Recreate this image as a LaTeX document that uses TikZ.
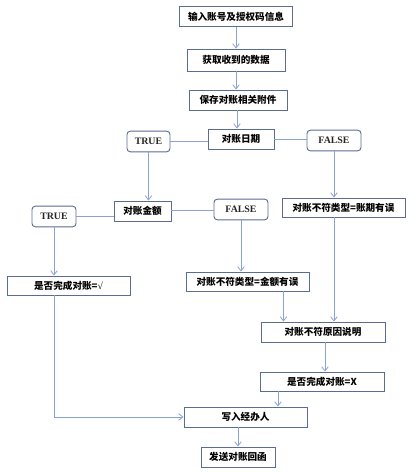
\documentclass[tikz,border=0pt]{standalone}
\usepackage{fontspec}
\setmainfont{Liberation Serif}
\newfontfamily\cjk{Noto Sans CJK SC}
\usetikzlibrary{arrows.meta,positioning,calc}
\definecolor{boxline}{HTML}{5A6C92}
\definecolor{flowline}{HTML}{8AA2D4}
\tikzset{
  step box/.style   = {draw=boxline, line width=0.7pt, fill=white, inner sep=0pt,
                       minimum height=15pt, font=\cjk\bfseries\fontsize{7.2}{8}\selectfont},
  answer/.style     = {draw=boxline, line width=0.7pt, rounded corners=2.5pt, fill=white,
                       inner sep=0pt, minimum height=15.5pt,
                       font=\bfseries\fontsize{7.4}{8}\selectfont, text=black!85},
  flow/.style       = {-{Straight Barb[length=3.2pt,width=5pt]}, draw=flowline, line width=0.6pt},
  link/.style       = {draw=flowline, line width=0.6pt},
}
\begin{document}
\begin{tikzpicture}[x=0.75pt,y=-0.75pt]
  \useasboundingbox (0,0) rectangle (411,472);
  % main column
  \node[step box, minimum width=84.75pt] (input)  at (236,16.5)  {输入账号及授权码信息};
  \node[step box, minimum width=73.5pt, minimum height=16.5pt] (fetch) at (236,60) {获取收到的数据};
  \node[step box, minimum width=73.5pt]  (save)   at (238,100)   {保存对账相关附件};
  \node[step box, minimum width=49.5pt]  (date)   at (241,139)   {对账日期};
  % date check
  \node[answer, minimum width=32.25pt]   (true1)  at (148.5,141.5) {TRUE};
  \node[answer, minimum width=40.5pt]    (false1) at (334,140.5)   {FALSE};
  \node[step box, minimum width=42.75pt] (amount) at (142.5,211)   {对账金额};
  \node[step box, minimum width=92.25pt, minimum height=14.25pt] (dateerr) at (343.5,207.5) {对账不符类型=账期有误};
  % amount check
  \node[answer, minimum width=33pt]      (true2)  at (54,216.5)    {TRUE};
  \node[answer, minimum width=40.5pt]    (false2) at (241,209.5)   {FALSE};
  \node[step box, minimum width=92.25pt, minimum height=14.25pt] (done)   at (68.5,285.5) {是否完成对账={\rmfamily\mdseries √}};
  \node[step box, minimum width=92.25pt, minimum height=14.25pt] (amterr) at (247.5,281.5) {对账不符类型=金额有误};
  % mismatch branch
  \node[step box, minimum width=93pt]    (reason) at (323,332)     {对账不符原因说明};
  \node[step box, minimum width=93pt, minimum height=14.25pt] (notdone) at (322,381.5) {是否完成对账=X};
  \node[step box, minimum width=92.25pt] (writer) at (245.5,417)   {写入经办人};
  \node[step box, minimum width=55.5pt]  (reply)  at (238,457)     {发送对账回函};

  \draw[flow] (input) -- (fetch);
  \draw[flow] (fetch) -- (fetch |- save.north);
  \draw[flow] ([xshift=-0.75pt]save.south) -- ([xshift=-0.75pt]save.south |- date.north);
  \draw[link] (true1.east) -- (true1.east -| date.west);
  \draw[link] (date.east) -- (date.east -| false1.west);
  \draw[flow] (true1.south) -- (true1.south |- amount.north);
  \draw[flow] (false1.south) -- (false1.south |- dateerr.north);
  \draw[link] (true2.east) -- (true2.east -| amount.west);
  \draw[link] ([yshift=0.75pt]amount.east) -- ([yshift=0.75pt]amount.east -| false2.west);
  \draw[flow] (true2.south) -- (true2.south |- done.north);
  \draw[flow] (false2.south) -- (false2.south |- amterr.north);
  \draw[flow] ([xshift=-19.5pt]amterr.south east) -- ([xshift=-19.5pt]amterr.south east |- reason.north);
  \draw[flow] (false1.south |- dateerr.south) -- (false1.south |- reason.north);
  \draw[flow] ([xshift=1.5pt]reason.south) -- ([xshift=1.5pt]reason.south |- notdone.north);
  \draw[flow] ([xshift=-33pt]notdone.south) -- ([xshift=-33pt]notdone.south |- writer.north);
  \draw[flow] (true2.south |- done.south) |- (writer.west);
  \draw[flow] (reply.north |- writer.south) -- (reply.north);
\end{tikzpicture}
\end{document}
